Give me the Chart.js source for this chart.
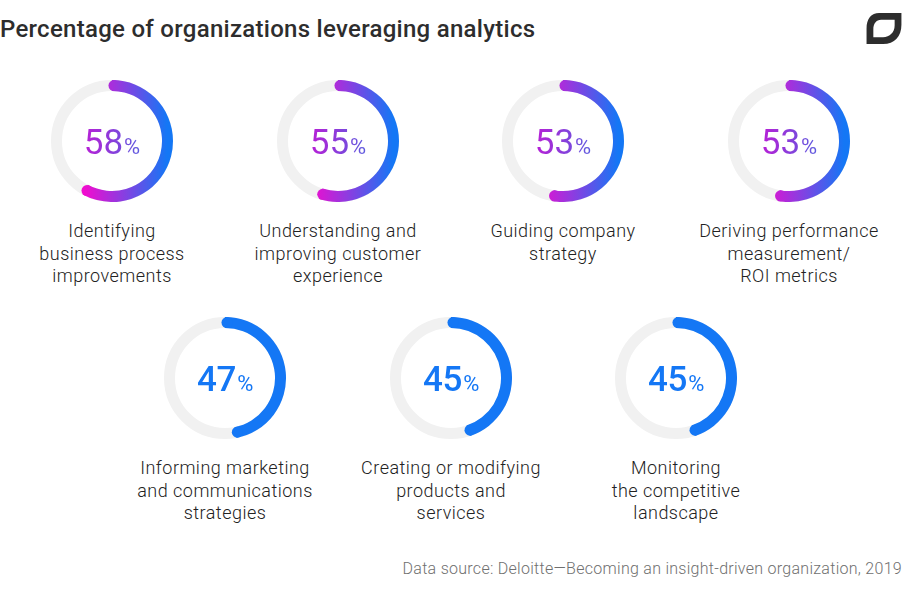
<!DOCTYPE html>
<html><head><meta charset="utf-8">
<script src="https://cdn.jsdelivr.net/npm/chart.js@4/dist/chart.umd.min.js"></script>
<style>
html,body{margin:0;padding:0;background:#fff;overflow:hidden}
#page{position:relative;width:902px;height:598px;font-family:Roboto,sans-serif;color:#2d2d2d}
#title{position:absolute;left:0;top:14px;font-size:24px;font-weight:500;line-height:30px;white-space:nowrap;letter-spacing:.28px}
#source{position:absolute;right:0;top:559px;font-size:16px;font-weight:300;line-height:20px;color:#6f6f6f;white-space:nowrap;letter-spacing:.28px}
canvas{position:absolute}
.label{position:absolute;width:220px;text-align:center;font-size:18px;font-weight:300;line-height:22.5px;letter-spacing:.48px;color:#222;white-space:pre-line}
.num{position:absolute;width:122px;height:44px;line-height:44px;text-align:center;white-space:nowrap;font-size:35px;font-weight:400}
.num.blue{font-weight:500;letter-spacing:-.3px}
.num small{font-size:22px;font-weight:400;margin-left:1px}
.num span{display:inline-block}
#logo{position:absolute;left:865px;top:13px}
</style></head><body>
<div id="page">
<div id="title"></div>
<svg id="logo" width="37" height="31" viewBox="0 0 37 32"><path fill-rule="evenodd" fill="#2d2d2d" d="M14 0H37V12C37 24 30 32 18 32H1V16C1 6 6 0 14 0ZM16 7C11 7 8 11 8 17V25H18C25 25 30 20 30 13V7Z"/></svg>
<div id="source"></div>
</div>
<script>
const titleText = "Percentage of organizations leveraging analytics";
const sourceText = "Data source: Deloitte\u2014Becoming an insight-driven organization, 2019";
const categories = [
  "Identifying\nbusiness process\nimprovements",
  "Understanding and\nimproving customer\nexperience",
  "Guiding company\nstrategy",
  "Deriving performance\nmeasurement/\nROI metrics",
  "Informing marketing\nand communications\nstrategies",
  "Creating or modifying\nproducts and\nservices",
  "Monitoring\nthe competitive\nlandscape"
];
const percentages = [58, 55, 53, 53, 47, 45, 45];
const centerX = [112, 338, 563, 789, 225, 451, 676];
const centerY = [141, 141, 141, 141, 378, 378, 378];
const BLUE = "#1477f5";
const TRACK = "#f1f1f1";
const OUTER = 61;
const CAP_INSET = 0.035;

const roundCaps = {
  id: "roundCaps",
  beforeDatasetsDraw(chart) {
    const a = chart.getDatasetMeta(0).data[0];
    const c = chart.ctx;
    c.save();
    c.beginPath();
    c.arc(a.x, a.y, (a.outerRadius + a.innerRadius) / 2, 0, Math.PI * 2);
    c.lineWidth = a.outerRadius - a.innerRadius;
    c.strokeStyle = TRACK;
    c.stroke();
    c.restore();
  },
  afterDatasetsDraw(chart) {
    const a = chart.getDatasetMeta(0).data[0];
    const c = chart.ctx;
    const r = (a.outerRadius + a.innerRadius) / 2;
    const w = (a.outerRadius - a.innerRadius) / 2;
    c.save();
    c.fillStyle = a.options.backgroundColor;
    [a.startAngle + CAP_INSET, a.endAngle - CAP_INSET].forEach(t => {
      c.beginPath();
      c.arc(a.x + r * Math.cos(t), a.y + r * Math.sin(t), w, 0, Math.PI * 2);
      c.fill();
    });
    c.restore();
  }
};

function arcFill(ctx, value) {
  if (value < 50) return BLUE;
  const g = ctx.chart.ctx.createLinearGradient(34, 0, 116, 0);
  g.addColorStop(0, "#f00ccf");
  g.addColorStop(1, "#1477f5");
  return g;
}

document.getElementById("title").textContent = titleText;
document.getElementById("source").textContent = sourceText;
const page = document.getElementById("page");

percentages.forEach((value, i) => {
  const cv = document.createElement("canvas");
  cv.style.left = (centerX[i] - OUTER) + "px";
  cv.style.top = (centerY[i] - OUTER) + "px";
  cv.style.width = cv.style.height = OUTER * 2 + "px";
  cv.width = cv.height = OUTER * 2;
  page.appendChild(cv);
  new Chart(cv, {
    type: "doughnut",
    data: {
      labels: [categories[i].replace(/\n/g, " "), "Other"],
      datasets: [{
        data: [value, 100 - value],
        backgroundColor: c => c.dataIndex === 0 ? arcFill(c, value) : "rgba(0,0,0,0)",
        borderWidth: 0
      }]
    },
    options: {
      responsive: false,
      animation: false,
      cutout: "82%",
      layout: { padding: 0 },
      plugins: { legend: { display: false }, tooltip: { enabled: false } }
    },
    plugins: [roundCaps]
  });

  const num = document.createElement("div");
  num.className = value < 50 ? "num blue" : "num";
  num.style.left = (centerX[i] - OUTER) + "px";
  num.style.top = (centerY[i] - 20) + "px";
  const inner = document.createElement("span");
  inner.innerHTML = value + "<small>%</small>";
  if (value >= 50) {
    inner.style.background = "linear-gradient(90deg,#b81fd6,#5d5bdf)";
    inner.style.webkitBackgroundClip = "text";
    inner.style.backgroundClip = "text";
    inner.style.color = "transparent";
  } else {
    inner.style.color = BLUE;
  }
  num.appendChild(inner);
  page.appendChild(num);

  const lab = document.createElement("div");
  lab.className = "label";
  lab.style.left = (centerX[i] - 110) + "px";
  lab.style.top = (centerY[i] + 79) + "px";
  lab.textContent = categories[i];
  page.appendChild(lab);
});
</script>
</body></html>
